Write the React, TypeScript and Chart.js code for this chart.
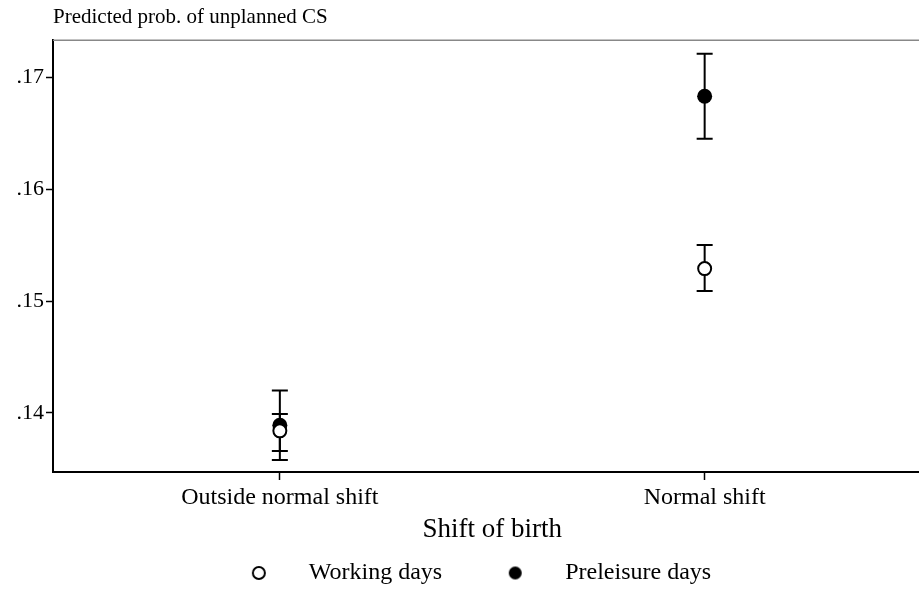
import React, { useEffect, useRef } from "react";
import { Chart, registerables } from "chart.js";

Chart.register(...registerables);

const categories = ["Outside normal shift", "Normal shift"];
const categoryPositions = [1, 2];
const seriesNames = ["Working days", "Preleisure days"];
const workingEstimate = [0.1384, 0.1529];
const workingLower = [0.1366, 0.1509];
const workingUpper = [0.1399, 0.155];
const preleisureEstimate = [0.1389, 0.1683];
const preleisureLower = [0.1358, 0.1645];
const preleisureUpper = [0.142, 0.1721];
const yTicks = [0.14, 0.15, 0.16, 0.17];
const yTickLabels = [".14", ".15", ".16", ".17"];
const yTitle = "Predicted prob. of unplanned CS";
const xTitle = "Shift of birth";

const FONT = "'Liberation Serif', 'Times New Roman', serif";

function makeMarker(filled: boolean, r: number) {
  const c = document.createElement("canvas");
  const s = Math.ceil(r * 2 + 4);
  c.width = s;
  c.height = s;
  const g = c.getContext("2d")!;
  g.beginPath();
  g.arc(s / 2, s / 2, r, 0, Math.PI * 2);
  if (filled) {
    g.fillStyle = "#000";
    g.fill();
  } else {
    g.fillStyle = "#fff";
    g.fill();
    g.lineWidth = 2;
    g.strokeStyle = "#000";
    g.stroke();
  }
  return c;
}

const errorBarPlugin = {
  id: "errorBars",
  beforeDatasetsDraw(chart: any) {
    const ctx = chart.ctx;
    const xs = chart.scales.x;
    const ys = chart.scales.y;
    const cap = 8;
    ctx.save();
    ctx.strokeStyle = "#000";
    ctx.lineWidth = 2;
    chart.data.datasets.forEach((ds: any) => {
      ds.data.forEach((pt: any, i: number) => {
        const x = xs.getPixelForValue(pt.x);
        const yl = ys.getPixelForValue(ds.lower[i]);
        const yu = ys.getPixelForValue(ds.upper[i]);
        ctx.beginPath();
        ctx.moveTo(x, yl);
        ctx.lineTo(x, yu);
        ctx.moveTo(x - cap, yl);
        ctx.lineTo(x + cap, yl);
        ctx.moveTo(x - cap, yu);
        ctx.lineTo(x + cap, yu);
        ctx.stroke();
      });
    });
    ctx.restore();
  },
};

const frameTopPlugin = {
  id: "frameTop",
  afterDraw(chart: any) {
    const { ctx, chartArea } = chart;
    ctx.save();
    ctx.strokeStyle = "#888";
    ctx.lineWidth = 1.5;
    ctx.beginPath();
    ctx.moveTo(chartArea.left, chartArea.top);
    ctx.lineTo(chartArea.right, chartArea.top);
    ctx.stroke();
    ctx.restore();
  },
};

export default function App() {
  const ref = useRef<HTMLCanvasElement | null>(null);

  useEffect(() => {
    document.body.style.margin = "0";
    if (!ref.current) return;
    const hollow = makeMarker(false, 6);
    const solid = makeMarker(true, 6.5);
    const chart = new Chart(ref.current, {
      type: "scatter",
      data: {
        datasets: [
          {
            label: seriesNames[0],
            data: categoryPositions.map((x, i) => ({ x, y: workingEstimate[i] })),
            lower: workingLower,
            upper: workingUpper,
            pointRadius: 6.5,
            pointBackgroundColor: "#fff",
            pointBorderColor: "#000",
            pointBorderWidth: 2,
          } as any,
          {
            label: seriesNames[1],
            data: categoryPositions.map((x, i) => ({ x, y: preleisureEstimate[i] })),
            lower: preleisureLower,
            upper: preleisureUpper,
            pointRadius: 7.5,
            pointBackgroundColor: "#000",
            pointBorderColor: "#000",
            pointBorderWidth: 0,
          } as any,
        ],
      },
      options: {
        animation: false,
        responsive: true,
        maintainAspectRatio: false,
        layout: { padding: { left: 0, right: 8, top: 0, bottom: 5 } },
        scales: {
          x: {
            type: "linear",
            min: 0.466,
            max: 2.534,
            afterBuildTicks: (axis: any) => {
              axis.ticks = categoryPositions.map((v) => ({ value: v }));
            },
            afterFit: (scale: any) => {
              scale.height = 54;
            },
            ticks: {
              color: "#000",
              font: { family: FONT, size: 24 },
              padding: 3,
              maxRotation: 0,
              autoSkip: false,
              callback: (v: any) => {
                const idx = categoryPositions.indexOf(Number(v));
                return idx >= 0 ? categories[idx] : "";
              },
            },
            grid: {
              drawOnChartArea: false,
              drawTicks: true,
              tickLength: 8,
              tickColor: "#000",
              tickWidth: 1.5,
            },
            border: { color: "#000", width: 2 },
            title: {
              display: true,
              text: xTitle,
              color: "#000",
              font: { family: FONT, size: 27 },
              padding: { top: 0, bottom: -20 },
            },
          },
          y: {
            type: "linear",
            min: 0.13472,
            max: 0.17331,
            afterBuildTicks: (axis: any) => {
              axis.ticks = yTicks.map((v) => ({ value: v }));
            },
            afterFit: (scale: any) => {
              scale.width = 53;
            },
            ticks: {
              color: "#000",
              font: { family: FONT, size: 22 },
              padding: 2,
              callback: (v: any) => {
                const idx = yTicks.findIndex((t) => Math.abs(t - Number(v)) < 1e-9);
                return idx >= 0 ? yTickLabels[idx] : "";
              },
            },
            grid: {
              drawOnChartArea: false,
              drawTicks: true,
              tickLength: 7,
              tickColor: "#000",
              tickWidth: 1.5,
            },
            border: { color: "#000", width: 2 },
          },
        },
        plugins: {
          tooltip: { enabled: false },
          title: {
            display: true,
            text: yTitle,
            align: "start",
            fullSize: false,
            color: "#000",
            font: { family: FONT, size: 21, weight: "normal" },
            padding: { top: 5, bottom: 10 },
          },
          legend: {
            display: true,
            position: "bottom",
            fullSize: true,
            labels: {
              usePointStyle: true,
              pointStyleWidth: 76,
              padding: 35,
              color: "#000",
              font: { family: FONT, size: 24 },
              generateLabels: () => [
                {
                  text: seriesNames[0],
                  pointStyle: hollow,
                  fillStyle: "#fff",
                  strokeStyle: "#000",
                  lineWidth: 0,
                  hidden: false,
                  datasetIndex: 0,
                  fontColor: "#000",
                },
                {
                  text: seriesNames[1],
                  pointStyle: solid,
                  fillStyle: "#000",
                  strokeStyle: "#000",
                  lineWidth: 0,
                  hidden: false,
                  datasetIndex: 1,
                  fontColor: "#000",
                },
              ] as any,
            },
          },
        },
      } as any,
      plugins: [errorBarPlugin, frameTopPlugin],
    });
    return () => chart.destroy();
  }, []);

  return (
    <div style={{ width: 919, height: 600, overflow: "hidden", background: "#fff" }}>
      <div style={{ width: 940, height: 600, position: "relative" }}>
        <canvas ref={ref} />
      </div>
    </div>
  );
}
